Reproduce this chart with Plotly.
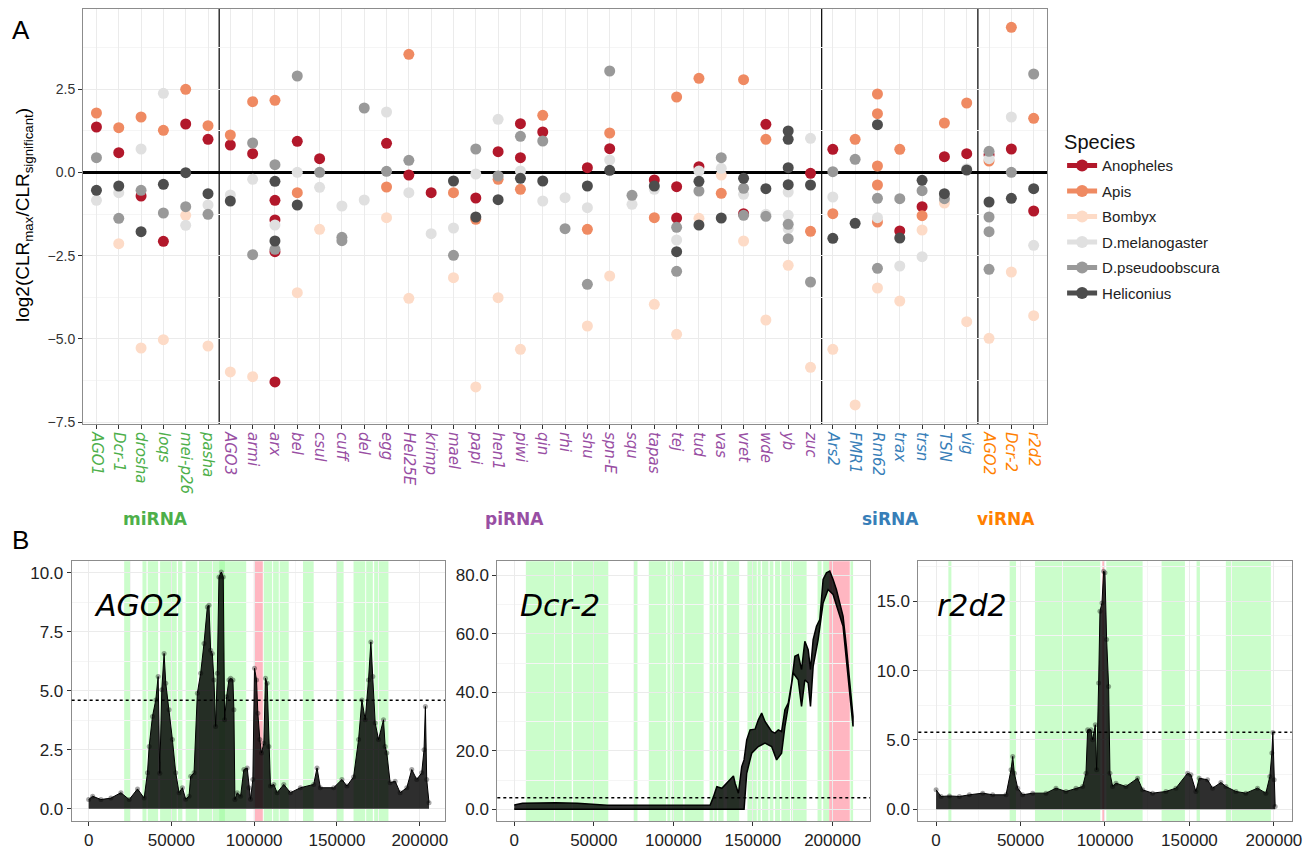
import plotly.graph_objects as go

# ---------------- Panel A data ----------------
mirna_genes = ["AGO1", "Dcr-1", "drosha", "loqs", "mei-p26", "pasha"]
pirna_genes = ["AGO3", "armi", "arx", "bel", "csul", "cuff", "del", "egg", "Hel25E", "krimp",
               "mael", "papi", "hen1", "piwi", "qin", "rhi", "shu", "spn-E", "squ", "tapas",
               "tej", "tud", "vas", "vret", "wde", "yb", "zuc"]
sirna_genes = ["Ars2", "FMR1", "Rm62", "trax", "trsn", "TSN", "vig"]
virna_genes = ["AGO2", "Dcr-2", "r2d2"]

group_names = ["miRNA", "piRNA", "siRNA", "viRNA"]
group_colors = ["#4DAF4A", "#984EA3", "#377EB8", "#FF7F00"]

species_names = ["Anopheles", "Apis", "Bombyx", "D.melanogaster", "D.pseudoobscura", "Heliconius"]
species_colors = ["#B2182B", "#EF8A62", "#FDDBC7", "#E0E0E0", "#999999", "#4D4D4D"]

anopheles = [("AGO1", 1.36), ("Dcr-1", 0.59), ("drosha", -0.71), ("loqs", -2.07), ("mei-p26", 1.45),
             ("pasha", 0.99), ("AGO3", 0.82), ("armi", 0.56), ("arx", -0.84), ("arx", -1.43),
             ("arx", -2.38), ("arx", -6.29), ("bel", 0.93), ("csul", 0.41), ("egg", 0.87),
             ("Hel25E", -0.08), ("krimp", -0.61), ("papi", -0.77), ("hen1", 0.62), ("piwi", 1.46),
             ("piwi", 0.44), ("qin", 1.21), ("shu", 0.14), ("spn-E", 0.71), ("tapas", -0.23),
             ("tej", -0.43), ("tej", -1.37), ("tud", 0.17), ("vret", -1.24), ("wde", 1.44),
             ("zuc", -0.03), ("Ars2", 0.69), ("trax", -1.76), ("trsn", -1.03), ("TSN", 0.47),
             ("vig", 0.56), ("AGO2", 0.53), ("Dcr-2", 0.70), ("r2d2", -1.16)]
apis = [("AGO1", 1.78), ("Dcr-1", 1.34), ("drosha", 1.66), ("loqs", 1.26), ("mei-p26", 2.49),
        ("pasha", 1.40), ("AGO3", 1.12), ("armi", 2.12), ("arx", 2.16), ("bel", -0.61),
        ("egg", -0.44), ("Hel25E", 3.54), ("mael", -0.61), ("papi", -1.41), ("hen1", -0.21),
        ("piwi", -0.51), ("qin", 1.71), ("shu", -1.71), ("spn-E", 1.18), ("tapas", -1.36),
        ("tej", 2.26), ("tud", 2.82), ("vas", -0.63), ("vret", 2.78), ("wde", 0.99),
        ("zuc", -1.77), ("Ars2", -1.24), ("FMR1", 0.99), ("Rm62", 2.35), ("Rm62", 1.76),
        ("Rm62", 0.19), ("Rm62", -0.38), ("Rm62", -1.49), ("trax", 0.69), ("trsn", -1.30),
        ("TSN", 1.48), ("vig", 2.08), ("AGO2", 0.34), ("Dcr-2", 4.35), ("r2d2", 1.62)]
bombyx = [("Dcr-1", -2.14), ("drosha", -5.27), ("loqs", -5.02), ("mei-p26", -1.29), ("pasha", -5.21),
          ("AGO3", -5.99), ("armi", -6.13), ("bel", -3.61), ("csul", -1.71), ("egg", -1.36),
          ("Hel25E", -3.78), ("mael", -3.16), ("papi", -6.44), ("hen1", -3.76), ("piwi", -5.31),
          ("shu", -4.61), ("spn-E", -3.11), ("tapas", -3.96), ("tej", -4.86), ("tud", -1.38),
          ("vas", -0.08), ("vret", -2.06), ("wde", -4.43), ("yb", -2.79), ("zuc", -5.85),
          ("Ars2", -5.31), ("FMR1", -6.98), ("Rm62", -3.47), ("trax", -3.86), ("trsn", -1.73),
          ("TSN", -0.92), ("vig", -4.48), ("AGO2", -4.98), ("Dcr-2", -2.99), ("r2d2", -4.30)]
dmelanogaster = [("AGO1", -0.84), ("Dcr-1", -0.61), ("drosha", 0.70), ("loqs", 2.37), ("mei-p26", -1.59),
                 ("pasha", -0.98), ("AGO3", -0.68), ("armi", -0.21), ("arx", -1.58), ("bel", 0.0),
                 ("csul", -0.45), ("cuff", -1.01), ("del", -0.83), ("egg", 1.81), ("Hel25E", -0.61),
                 ("krimp", -1.84), ("mael", -1.67), ("papi", -0.05), ("hen1", 1.59), ("piwi", 0.04),
                 ("qin", -0.86), ("rhi", -0.76), ("shu", -1.06), ("spn-E", 0.37), ("squ", -0.96),
                 ("tapas", -0.51), ("tej", -2.03), ("tud", 0.04), ("vas", 0.12), ("vret", -0.66),
                 ("wde", -1.26), ("yb", -0.59), ("yb", -1.29), ("yb", -1.69), ("zuc", 1.02),
                 ("Ars2", -0.74), ("Rm62", -1.36), ("trax", -2.81), ("trsn", -2.53), ("vig", 0.11),
                 ("AGO2", 0.41), ("Dcr-2", 1.66), ("r2d2", -2.19)]
dpseudoobscura = [("AGO1", 0.44), ("Dcr-1", -1.38), ("drosha", -0.54), ("loqs", -1.22), ("mei-p26", -1.03),
                  ("pasha", -1.26), ("armi", 0.88), ("armi", -2.47), ("arx", 0.23), ("arx", -2.31),
                  ("bel", 2.89), ("csul", 0.0), ("cuff", -1.95), ("cuff", -2.05), ("del", 1.93),
                  ("egg", 0.03), ("Hel25E", 0.36), ("mael", -2.49), ("papi", 0.70), ("hen1", -0.11),
                  ("piwi", 1.08), ("qin", 0.94), ("rhi", -1.69), ("shu", -3.36), ("spn-E", 3.04),
                  ("squ", -0.69), ("tej", -1.65), ("tej", -2.97), ("tud", -0.56), ("vas", 0.44),
                  ("vret", -0.48), ("vret", -1.29), ("wde", -1.32), ("yb", -1.56), ("yb", -1.99),
                  ("zuc", -3.29), ("Ars2", 0.02), ("FMR1", 0.39), ("Rm62", -0.78), ("Rm62", -2.88),
                  ("trax", -0.79), ("trsn", -0.55), ("TSN", -0.79), ("AGO2", 0.63), ("AGO2", -1.34),
                  ("AGO2", -1.78), ("AGO2", -2.91), ("Dcr-2", 0.0), ("r2d2", 2.95)]
heliconius = [("AGO1", -0.54), ("Dcr-1", -0.41), ("drosha", -1.78), ("loqs", -0.36), ("mei-p26", -0.01),
              ("pasha", -0.64), ("AGO3", -0.86), ("arx", -0.27), ("arx", -2.06), ("bel", -0.98),
              ("mael", -0.26), ("papi", -1.34), ("hen1", -0.82), ("piwi", -0.18), ("qin", -0.26),
              ("shu", -0.41), ("spn-E", 0.06), ("tapas", -0.41), ("tej", -2.38), ("tud", -0.27),
              ("tud", -1.58), ("vas", -1.37), ("vret", -0.18), ("wde", -0.49), ("yb", 1.24),
              ("yb", 0.99), ("yb", 0.14), ("yb", -0.37), ("zuc", -0.38), ("Ars2", -1.98),
              ("FMR1", -1.53), ("Rm62", 1.43), ("trax", -1.97), ("trsn", -0.24), ("TSN", -0.64),
              ("vig", 0.07), ("AGO2", -0.89), ("Dcr-2", -0.78), ("r2d2", -0.49)]

# ---------------- Panel B data ----------------
ago2_pos = [0, 2410, 7430, 13450, 19480, 24500, 29520, 33530, 35540, 36550, 38550, 40560, 41970, 42970,
            44180, 45580, 46590, 48590, 50600, 52610, 54620, 56630, 58630, 60640, 61650, 63650, 65660,
            67670, 69680, 71690, 72690, 73690, 74700, 75700, 76710, 77710, 78710, 80120, 81320, 82130,
            83330, 84740, 85740, 87150, 87750, 88350, 89760, 91770, 93770, 95780, 96780, 97790, 99190,
            100200, 101400, 102210, 103410, 104420, 105820, 106830, 107830, 108840, 109840, 111850,
            113850, 117870, 121890, 127910, 135940, 137950, 139960, 147990, 153010, 156020, 160040,
            163050, 165060, 167070, 169070, 170480, 171680, 173090, 175100, 178110, 179120, 180120,
            182130, 185140, 188150, 192170, 195180, 198190, 201200, 202600, 203410, 204210, 205620]
ago2_clr = [0.39, 0.53, 0.39, 0.45, 0.68, 0.39, 0.84, 0.45, 1.52, 2.64, 3.91, 4.61, 5.60, 1.5,
            5.04, 6.58, 5.32, 4.19, 2.93, 1.52, 0.68, 0.89, 0.40, 0.53, 1.38, 1.52, 4.89,
            5.74, 7.00, 8.55, 8.62, 6.72, 6.58, 5.46, 3.49, 5.74, 9.82, 10.03, 9.82, 3.77,
            4.75, 5.46, 5.53, 5.46, 4.19, 0.39, 0.68, 0.53, 1.66, 1.73, 0.89, 0.40, 1.24,
            5.95, 5.46, 4.05, 2.93, 2.36, 2.78, 5.53, 5.32, 2.64, 0.96, 1.03,
            0.68, 1.03, 0.68, 0.89, 1.03, 1.73, 0.89, 0.89, 1.24, 0.96, 1.35,
            2.93, 4.61, 3.77, 5.46, 7.07, 5.60, 3.63, 2.93, 3.77, 2.64, 2.36,
            1.10, 1.17, 0.68, 0.89, 1.66, 1.24, 1.52, 2.50, 4.33, 1.24, 0.25]
ago2_green = [(21460, 25080), (32510, 34920), (35720, 41950), (43150, 53190), (54000, 56600),
              (58610, 65640), (66650, 82310), (78900, 95160), (105800, 110820), (111430, 114840),
              (115440, 120860), (129500, 135920), (149580, 154000), (160020, 167050),
              (167650, 171670), (172470, 181100)]
ago2_red = (99780, 105200)
ago2_threshold = 4.6

dcr2_pos = [0, 5220, 26090, 39650, 58440, 79310, 100180, 123130, 125220, 127310, 130440, 132520,
            135660, 137740, 138790, 140870, 142960, 144420, 146090, 148180, 151310, 153390, 155480,
            157570, 159660, 161740, 163830, 165920, 168000, 170090, 172180, 174270, 176350, 178440,
            180530, 182610, 184700, 186160, 187830, 189920, 192000, 194090, 196180, 198270, 200350,
            202440, 204530, 206610, 208700, 210790, 212880]
dcr2_upper = [1.49, 2.06, 2.29, 2.06, 1.37, 1.37, 1.26, 1.49, 4.34, 7.77, 7.20, 8.34,
              10.06, 11.43, 8.91, 5.49, 14.63, 16.91, 23.77, 27.20, 27.43, 30.63, 32.91,
              30.06, 28.34, 26.63, 26.06, 27.20, 26.63, 34.06, 36.34, 43.20, 52.34, 52.91,
              47.77, 57.49, 54.63, 47.77, 58.06, 62.63, 64.91, 78.63, 80.91, 81.49, 78.63,
              75.20, 70.63, 66.06, 55.77, 43.20, 31.77]
dcr2_low_pos = [0, 144420, 146090, 149220, 153390, 157570, 161740, 164870, 168000, 170090, 173220,
                175310, 178440, 180530, 182610, 184700, 186160, 187830, 190960, 194090, 197220,
                200350, 203480, 206610, 208700, 210790, 212880]
dcr2_lower = [0, 0, 12.34, 19.20, 21.49, 22.63, 21.49, 16.91, 19.20, 28.34, 38.63,
              46.63, 44.34, 35.20, 44.34, 43.20, 35.20, 48.91, 58.06, 70.63, 75.20,
              73.49, 68.34, 62.63, 51.20, 38.63, 28.34]
dcr2_green = [(7320, 36130), (36970, 59090), (74750, 77460), (84560, 95410), (96250, 98130),
              (98960, 106060), (107100, 119000), (122750, 124840), (125680, 127350),
              (128180, 131520), (133610, 141330), (146550, 152400), (153020, 154900),
              (155740, 159700), (160540, 162830), (163880, 167010), (167840, 173270),
              (173900, 183710), (190600, 193100), (194140, 197900), (211260, 212930)]
dcr2_red = (197900, 210840)
dcr2_threshold = 4.0

r2d2_pos = [0, 2960, 7890, 13800, 19720, 27610, 33520, 41410, 44370, 45360, 46340, 48310, 51270,
            57190, 65080, 70990, 76910, 82820, 86770, 88740, 89730, 91700, 92680, 94260, 95050,
            96230, 97020, 98210, 99190, 99980, 100970, 102150, 102940, 104520, 106490, 112400,
            119310, 122260, 128180, 136070, 141980, 148890, 150860, 153820, 155790, 160720,
            163680, 168610, 171560, 177480, 183400, 190300, 195230, 197600, 198780, 199370,
            200160, 200750]
r2d2_clr = [1.40, 0.92, 0.96, 0.92, 1.04, 1.16, 1.04, 1.04, 2.84, 3.81, 2.60, 1.52, 1.04,
            1.16, 1.16, 1.52, 1.28, 1.52, 1.64, 2.60, 5.73, 5.73, 5.01, 6.09, 2.84,
            9.10, 14.28, 14.88, 17.17, 17.05, 12.24, 8.86, 2.60, 1.64, 1.88, 1.64,
            2.24, 1.40, 1.16, 1.28, 1.52, 2.60, 2.48, 1.28, 2.24, 2.12,
            1.52, 1.93, 1.64, 1.28, 1.16, 1.52, 1.16, 2.36, 4.05, 5.54,
            2.12, 0.19]
r2d2_green = [(7280, 9050), (43570, 47320), (58560, 97220), (100770, 122260), (133510, 147320),
              (154220, 156190), (171570, 198200)]
r2d2_red = (98400, 99980)
r2d2_threshold = 5.56

# ---------------- Figure ----------------
genes = mirna_genes + pirna_genes + sirna_genes + virna_genes
gene_index = {g: i for i, g in enumerate(genes)}
gene_color = {}
for gl, c in zip([mirna_genes, pirna_genes, sirna_genes, virna_genes], group_colors):
    for g in gl:
        gene_color[g] = c

fig = go.Figure()
species_data = [anopheles, apis, bombyx, dmelanogaster, dpseudoobscura, heliconius]
for name, col, data in zip(species_names, species_colors, species_data):
    fig.add_trace(go.Scatter(
        x=[gene_index[g] for g, v in data], y=[v for g, v in data],
        mode="markers", marker=dict(size=11, color=col, line=dict(width=0)),
        name=name, showlegend=False, xaxis="x", yaxis="y"))
for name, col in zip(species_names, species_colors):
    fig.add_trace(go.Scatter(x=[None], y=[None], mode="lines+markers", name=name,
                             legendgroup=name,
                             marker=dict(size=10, color=col), line=dict(color=col, width=1.2),
                             xaxis="x", yaxis="y"))

fill_col = "rgba(0,0,0,0.82)"
fig.add_trace(go.Scatter(x=ago2_pos, y=ago2_clr, mode="lines+markers", fill="tozeroy",
                         fillcolor=fill_col, line=dict(color="black", width=1),
                         marker=dict(size=5, color="rgba(0,0,0,0.35)"),
                         showlegend=False, xaxis="x2", yaxis="y2"))
fig.add_trace(go.Scatter(x=dcr2_pos + dcr2_low_pos[::-1], y=dcr2_upper + dcr2_lower[::-1],
                         mode="lines", fill="toself", fillcolor=fill_col,
                         line=dict(color="black", width=1.5),
                         showlegend=False, xaxis="x3", yaxis="y3"))
fig.add_trace(go.Scatter(x=r2d2_pos, y=r2d2_clr, mode="lines+markers", fill="tozeroy",
                         fillcolor=fill_col, line=dict(color="black", width=1),
                         marker=dict(size=5, color="rgba(0,0,0,0.35)"),
                         showlegend=False, xaxis="x4", yaxis="y4"))

shapes = []
green = "rgba(152,251,152,0.5)"
pink = "rgba(255,182,193,1)"
for ax, gl, red, thr in [("2", ago2_green, ago2_red, ago2_threshold),
                         ("3", dcr2_green, dcr2_red, dcr2_threshold),
                         ("4", r2d2_green, r2d2_red, r2d2_threshold)]:
    for a, b in gl:
        shapes.append(dict(type="rect", xref="x" + ax, yref="y" + ax + " domain", x0=a, x1=b,
                           y0=0, y1=1, fillcolor=green, line=dict(width=0), layer="below"))
    shapes.append(dict(type="rect", xref="x" + ax, yref="y" + ax + " domain", x0=red[0], x1=red[1],
                       y0=0, y1=1, fillcolor=pink, line=dict(width=0), layer="below"))
    shapes.append(dict(type="line", xref="x" + ax + " domain", yref="y" + ax, x0=0, x1=1,
                       y0=thr, y1=thr, line=dict(color="black", width=1.5, dash="dot")))

# Panel A group separators
bounds = [len(mirna_genes) - 0.5, len(mirna_genes) + len(pirna_genes) - 0.5,
          len(mirna_genes) + len(pirna_genes) + len(sirna_genes) - 0.5]
for b in bounds:
    shapes.append(dict(type="line", xref="x", yref="y domain", x0=b, x1=b, y0=0, y1=1,
                       line=dict(color="black", width=1.2), layer="below"))

ticktext = ['<span style="color:%s"><i>%s</i></span>' % (gene_color[g], g) for g in genes]

grid = "#EBEBEB"
mgrid = "#F5F5F5"
border = "#8C8C8C"
tick_font = dict(family="Liberation Sans, Arial, sans-serif", size=14, color="#333333")
btick_font = dict(family="Liberation Sans, Arial, sans-serif", size=17, color="#222222")

def bax(domain, rng, dtick, anchor, fmt):
    return dict(domain=domain, range=rng, tickmode="linear", tick0=0, dtick=dtick, anchor=anchor,
                showgrid=True, gridcolor=grid, zeroline=False, showline=True, mirror=True,
                linecolor=border, linewidth=1, ticks="outside", ticklen=4, tickcolor="#333",
                tickfont=btick_font, tickformat=fmt, automargin=False,
                minor=dict(dtick=dtick / 2, tick0=0, showgrid=True, gridcolor=mgrid))

yb = [0.0341, 0.3398]
fig.update_layout(
    width=1308, height=850, margin=dict(l=0, r=0, t=0, b=0, autoexpand=False),
    paper_bgcolor="white", plot_bgcolor="white",
    font=dict(family="Liberation Sans, Arial, sans-serif", color="#222"),
    xaxis=dict(domain=[0.0635, 0.8005], range=[-0.6, 42.6], anchor="y", automargin=False,
               tickmode="array", tickvals=list(range(len(genes))), ticktext=ticktext,
               tickangle=90, tickfont=dict(family="DejaVu Sans", size=15),
               showgrid=True, gridcolor=grid, zeroline=False, showline=True, mirror=True,
               linecolor=border, linewidth=1, ticks="outside", ticklen=4, tickcolor="#333"),
    yaxis=dict(domain=[0.5012, 0.9894], range=[-7.55, 4.9], anchor="x", tickmode="linear",
               tick0=0, dtick=2.5, tickformat=".1f", tickfont=tick_font, automargin=False,
               showgrid=True, gridcolor=grid, zeroline=True, zerolinecolor="black",
               zerolinewidth=3, showline=True, mirror=True,
               linecolor=border, linewidth=1, ticks="outside", ticklen=4, tickcolor="#333",
               minor=dict(dtick=1.25, tick0=0, showgrid=True, gridcolor=mgrid)),
    xaxis2=bax([0.0548, 0.3402], [-10250, 215250], 50000, "y2", "d"),
    yaxis2=bax(yb, [-0.52, 10.49], 2.5, "x2", ".1f"),
    xaxis3=bax([0.3802, 0.6651], [-10640, 223520], 50000, "y3", "d"),
    yaxis3=bax(yb, [-4.0, 84.9], 20, "x3", ".1f"),
    xaxis4=bax([0.7021, 0.9875], [-10500, 210500], 50000, "y4", "d"),
    yaxis4=bax(yb, [-0.85, 17.89], 5, "x4", ".1f"),
    shapes=shapes,
    legend=dict(x=0.812, y=0.855, xanchor="left", yanchor="top",
                title=dict(text="Species", font=dict(size=20, color="#111")),
                font=dict(size=15, color="#222"), bgcolor="rgba(0,0,0,0)",
                itemsizing="constant", tracegroupgap=3),
)

annotations = [
    dict(text="A", x=10 / 1308, y=1 - 30 / 850, xref="paper", yref="paper", showarrow=False,
         xanchor="left", yanchor="middle", font=dict(size=26, color="black")),
    dict(text="B", x=10 / 1308, y=1 - 540 / 850, xref="paper", yref="paper", showarrow=False,
         xanchor="left", yanchor="middle", font=dict(size=26, color="black")),
    dict(text="log2(CLR<sub>max</sub>/CLR<sub>significant</sub>)", x=24 / 1308, y=1 - 215 / 850,
         xref="paper", yref="paper", showarrow=False, textangle=-90, xanchor="center",
         yanchor="middle", font=dict(size=19, color="black")),
]
for name, col, cx in zip(group_names, group_colors, [155, 514, 890, 1006]):
    annotations.append(dict(text="<b>%s</b>" % name, x=cx / 1308, y=1 - 519 / 850, xref="paper",
                            yref="paper", showarrow=False, xanchor="center", yanchor="middle",
                            font=dict(family="DejaVu Sans", size=17, color=col)))
for name, lx in zip(virna_genes, [92, 518, 935]):
    annotations.append(dict(text="<i>%s</i>" % name, x=lx / 1308, y=1 - 605 / 850, xref="paper",
                            yref="paper", showarrow=False, xanchor="left", yanchor="middle",
                            font=dict(family="DejaVu Sans", size=30, color="black")))
fig.update_layout(annotations=annotations)

fig.write_html("out.html")
